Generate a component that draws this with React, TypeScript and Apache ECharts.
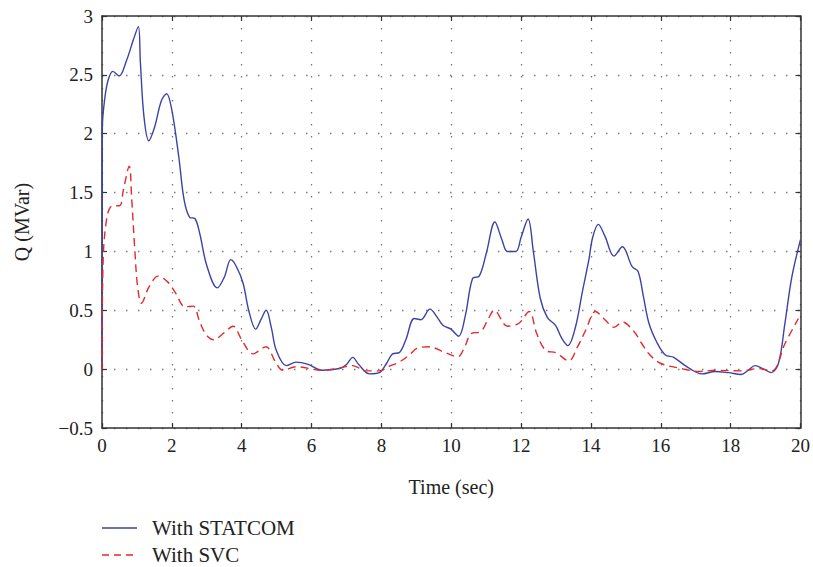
import React, { useEffect, useRef } from "react";
import * as echarts from "echarts";

const statcomT = [0, 0.01, 0.08, 0.18, 0.31, 0.49, 0.7, 0.9, 1.04, 1.1, 1.2, 1.34, 1.5, 1.7, 1.85, 2.0, 2.2, 2.35, 2.51, 2.66, 2.8, 3.0, 3.3, 3.5, 3.69, 3.85, 4.04, 4.2, 4.4, 4.55, 4.7, 4.85, 4.99, 5.28, 5.56, 5.9, 6.3, 6.8, 7.0, 7.18, 7.35, 7.66, 7.94, 8.15, 8.32, 8.51, 8.7, 8.94, 9.13, 9.39, 9.6, 9.77, 9.99, 10.21, 10.4, 10.61, 10.8, 11.0, 11.25, 11.45, 11.61, 11.85, 12.0, 12.2, 12.35, 12.55, 12.75, 12.99, 13.15, 13.34, 13.55, 13.75, 13.94, 14.05, 14.21, 14.4, 14.66, 14.9, 15.18, 15.35, 15.5, 15.66, 15.9, 16.13, 16.37, 16.7, 17.18, 17.56, 17.94, 18.3, 18.5, 18.7, 18.95, 19.16, 19.37, 19.55, 19.75, 20.0];
const statcomQ = [0, 2.05, 2.3, 2.46, 2.53, 2.49, 2.62, 2.8, 2.91, 2.6, 2.15, 1.94, 2.05, 2.28, 2.34, 2.2, 1.8, 1.44, 1.29, 1.28, 1.15, 0.88, 0.69, 0.78, 0.93, 0.87, 0.73, 0.5, 0.34, 0.42, 0.5, 0.35, 0.16, 0.03, 0.06, 0.04, -0.01, 0.005, 0.04, 0.1, 0.04, -0.04, -0.03, 0.05, 0.13, 0.14, 0.25, 0.43, 0.42, 0.51, 0.44, 0.37, 0.34, 0.28, 0.45, 0.77, 0.79, 0.98, 1.25, 1.1, 1.0, 1.0, 1.12, 1.275, 1.0, 0.6, 0.44, 0.37, 0.27, 0.2, 0.35, 0.65, 0.93, 1.12, 1.23, 1.13, 0.96, 1.04, 0.87, 0.83, 0.62, 0.39, 0.22, 0.12, 0.1, 0.03, -0.04, -0.02, -0.03, -0.045, -0.01, 0.03, 0.0, -0.03, 0.05, 0.38, 0.78, 1.1];

const svcT = [0, 0.03, 0.13, 0.28, 0.51, 0.61, 0.78, 0.85, 0.94, 1.02, 1.13, 1.35, 1.61, 1.9, 2.1, 2.38, 2.61, 2.8, 2.99, 3.2, 3.5, 3.75, 4.0, 4.32, 4.7, 4.95, 5.18, 5.56, 6.32, 6.8, 7.18, 7.56, 7.94, 8.23, 8.51, 8.8, 9.04, 9.37, 9.75, 10.18, 10.4, 10.56, 10.85, 11.05, 11.23, 11.61, 11.94, 12.23, 12.45, 12.7, 12.99, 13.37, 13.6, 13.85, 14.13, 14.4, 14.66, 14.9, 15.23, 15.45, 15.66, 15.99, 16.6, 17.08, 17.56, 18.32, 18.8, 19.18, 19.56, 19.94];
const svcQ = [0, 0.9, 1.27, 1.385, 1.39, 1.52, 1.725, 1.45, 1.01, 0.7, 0.56, 0.7, 0.79, 0.735, 0.65, 0.53, 0.535, 0.4, 0.29, 0.25, 0.31, 0.365, 0.25, 0.13, 0.19, 0.07, -0.01, 0.02, -0.01, 0.01, 0.03, -0.015, -0.015, 0.025, 0.06, 0.12, 0.18, 0.19, 0.15, 0.105, 0.2, 0.3, 0.32, 0.42, 0.5, 0.365, 0.39, 0.49, 0.3, 0.16, 0.14, 0.07, 0.18, 0.33, 0.49, 0.42, 0.355, 0.4, 0.32, 0.22, 0.13, 0.05, 0.005, -0.02, -0.01, -0.015, 0.005, -0.015, 0.22, 0.43];

const seriesNames = ["With STATCOM", "With SVC"];
const xTicks = { min: 0, max: 20, interval: 2 };
const yTicks = { min: -0.5, max: 3, interval: 0.5 };

const FONT = "'Liberation Serif', 'Times New Roman', serif";
const BLUE = "#3d42a6";
const RED = "#e32a2a";
const RED_DASH = [8, 5];

export default function App() {
  const ref = useRef<HTMLDivElement>(null);
  useEffect(() => {
    if (!ref.current) return;
    const chart = echarts.init(ref.current, undefined, { renderer: "svg" });
    const frameLine = { show: true, onZero: false, lineStyle: { color: "#333", width: 1.5 } };
    const tick = { show: true, inside: true, length: 5, lineStyle: { color: "#333", width: 1.2 } };
    const split = { show: true, lineStyle: { color: "#7a7a7a", type: [1.5, 10.5] as any, width: 1.3 } };
    const tickLabel = { fontFamily: FONT, fontSize: 19, color: "#222" };
    const nameStyle = { fontFamily: FONT, fontSize: 20, color: "#222" };
    const legendX = 102;
    const legendY = [528, 555];
    chart.setOption({
      animation: false,
      backgroundColor: "#fff",
      grid: { left: 102, top: 16, right: 11, bottom: 139, containLabel: false },
      xAxis: [
        {
          type: "value",
          ...xTicks,
          axisLine: frameLine,
          axisTick: tick,
          splitLine: split,
          axisLabel: { ...tickLabel, margin: 8 },
          name: "Time (sec)",
          nameLocation: "middle",
          nameGap: 49,
          nameTextStyle: nameStyle,
        },
        {
          type: "value",
          position: "top",
          ...xTicks,
          axisLine: frameLine,
          axisTick: tick,
          splitLine: { show: false },
          axisLabel: { show: false },
        },
      ],
      yAxis: [
        {
          type: "value",
          ...yTicks,
          axisLine: frameLine,
          axisTick: tick,
          splitLine: split,
          axisLabel: {
            ...tickLabel,
            margin: 9,
            formatter: (v: number) => String(v).replace("-", "\u2212"),
          },
          name: "Q (MVar)",
          nameLocation: "middle",
          nameGap: 70,
          nameTextStyle: nameStyle,
        },
        {
          type: "value",
          position: "right",
          ...yTicks,
          axisLine: frameLine,
          axisTick: tick,
          splitLine: { show: false },
          axisLabel: { show: false },
        },
      ],
      graphic: [
        {
          type: "line",
          shape: { x1: legendX, y1: legendY[0], x2: legendX + 35, y2: legendY[0] },
          style: { stroke: BLUE, lineWidth: 1.4 },
        },
        {
          type: "line",
          shape: { x1: legendX, y1: legendY[1], x2: legendX + 36, y2: legendY[1] },
          style: { stroke: RED, lineWidth: 1.4, lineDash: [7, 5] },
        },
        {
          type: "text",
          x: 152,
          y: legendY[0],
          style: { text: seriesNames[0], fontFamily: FONT, fontSize: 21, fill: "#222", verticalAlign: "middle" },
        },
        {
          type: "text",
          x: 152,
          y: legendY[1],
          style: { text: seriesNames[1], fontFamily: FONT, fontSize: 21, fill: "#222", verticalAlign: "middle" },
        },
      ],
      series: [
        {
          name: seriesNames[0],
          type: "line",
          data: statcomT.map((t, i) => [t, statcomQ[i]]),
          smooth: 0.35,
          symbol: "none",
          lineStyle: { color: BLUE, width: 1.4 },
          itemStyle: { color: BLUE },
          z: 3,
        },
        {
          name: seriesNames[1],
          type: "line",
          data: svcT.map((t, i) => [t, svcQ[i]]),
          smooth: 0.35,
          symbol: "none",
          lineStyle: { color: RED, width: 1.4, type: RED_DASH as any },
          itemStyle: { color: RED },
          z: 4,
        },
      ],
    });
    return () => chart.dispose();
  }, []);
  return (
    <div
      ref={ref}
      style={{ position: "fixed", left: 0, top: 0, width: 813, height: 567 }}
    />
  );
}
